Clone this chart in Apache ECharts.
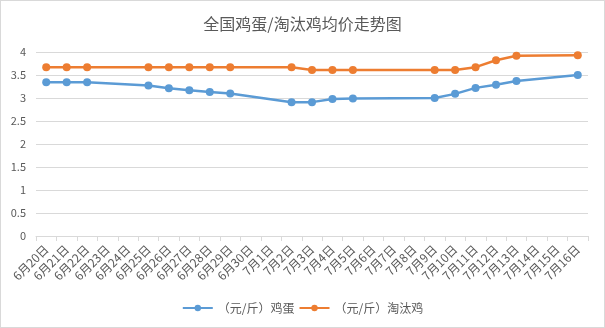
<!DOCTYPE html>
<html><head><meta charset="utf-8">
<script src="https://cdn.jsdelivr.net/npm/echarts@6/dist/echarts.min.js"></script>
<style>html,body{margin:0;padding:0;background:#fff}#c{width:605px;height:328px;box-sizing:border-box;border:1px solid #d9d9d9}</style>
</head><body><div id="c"></div>
<script>
var categories = ['6月20日','6月21日','6月22日','6月23日','6月24日','6月25日','6月26日','6月27日','6月28日','6月29日','6月30日','7月1日','7月2日','7月3日','7月4日','7月5日','7月6日','7月7日','7月8日','7月9日','7月10日','7月11日','7月12日','7月13日','7月14日','7月15日','7月16日'];
var eggPrice = [3.34,3.34,3.34,null,null,3.27,3.21,3.17,3.13,3.10,null,null,2.91,2.91,2.98,2.99,null,null,null,3.00,3.09,3.22,3.29,3.37,null,null,3.50];
var henPrice = [3.67,3.67,3.67,null,null,3.67,3.67,3.67,3.67,3.67,null,null,3.67,3.61,3.61,3.61,null,null,null,3.61,3.61,3.67,3.82,3.92,null,null,3.93];
var seriesNames = ['（元/斤）鸡蛋','（元/斤）淘汰鸡'];
var yTicks = {min:0,max:4,interval:0.5};
var font = '"Noto Sans CJK SC", "Noto Sans", sans-serif';
var chart = echarts.init(document.getElementById('c'));
chart.setOption({
  animation:false,
  color:['#5B9BD5','#ED7D31'],
  textStyle:{fontFamily:font},
  title:{text:'全国鸡蛋/淘汰鸡均价走势图',left:'center',top:10,textStyle:{fontSize:16,fontWeight:'normal',color:'#595959',fontFamily:font}},
  grid:{left:35,right:16,top:51,bottom:91,containLabel:false},
  legend:{bottom:8,left:'center',itemWidth:30,itemHeight:8,itemGap:4,textStyle:{color:'#595959',fontSize:12,fontFamily:font},data:seriesNames},
  xAxis:{type:'category',data:categories,boundaryGap:true,
    axisLine:{lineStyle:{color:'#d9d9d9'}},
    axisTick:{show:true,length:5,lineStyle:{color:'#d9d9d9'},alignWithLabel:false},
    axisLabel:{rotate:45,interval:0,color:'#595959',fontSize:12,margin:11,fontFamily:font}},
  yAxis:{type:'value',min:yTicks.min,max:yTicks.max,interval:yTicks.interval,
    axisLine:{show:false},axisTick:{show:false},
    splitLine:{lineStyle:{color:'#d9d9d9'}},
    axisLabel:{color:'#595959',fontSize:11,margin:10,fontFamily:font}},
  series:[
    {name:seriesNames[0],type:'line',data:eggPrice,connectNulls:true,symbol:'circle',symbolSize:8,lineStyle:{width:2.5},itemStyle:{color:'#5B9BD5'}},
    {name:seriesNames[1],type:'line',data:henPrice,connectNulls:true,symbol:'circle',symbolSize:8,lineStyle:{width:2.5},itemStyle:{color:'#ED7D31'}}
  ]
});
</script></body></html>
